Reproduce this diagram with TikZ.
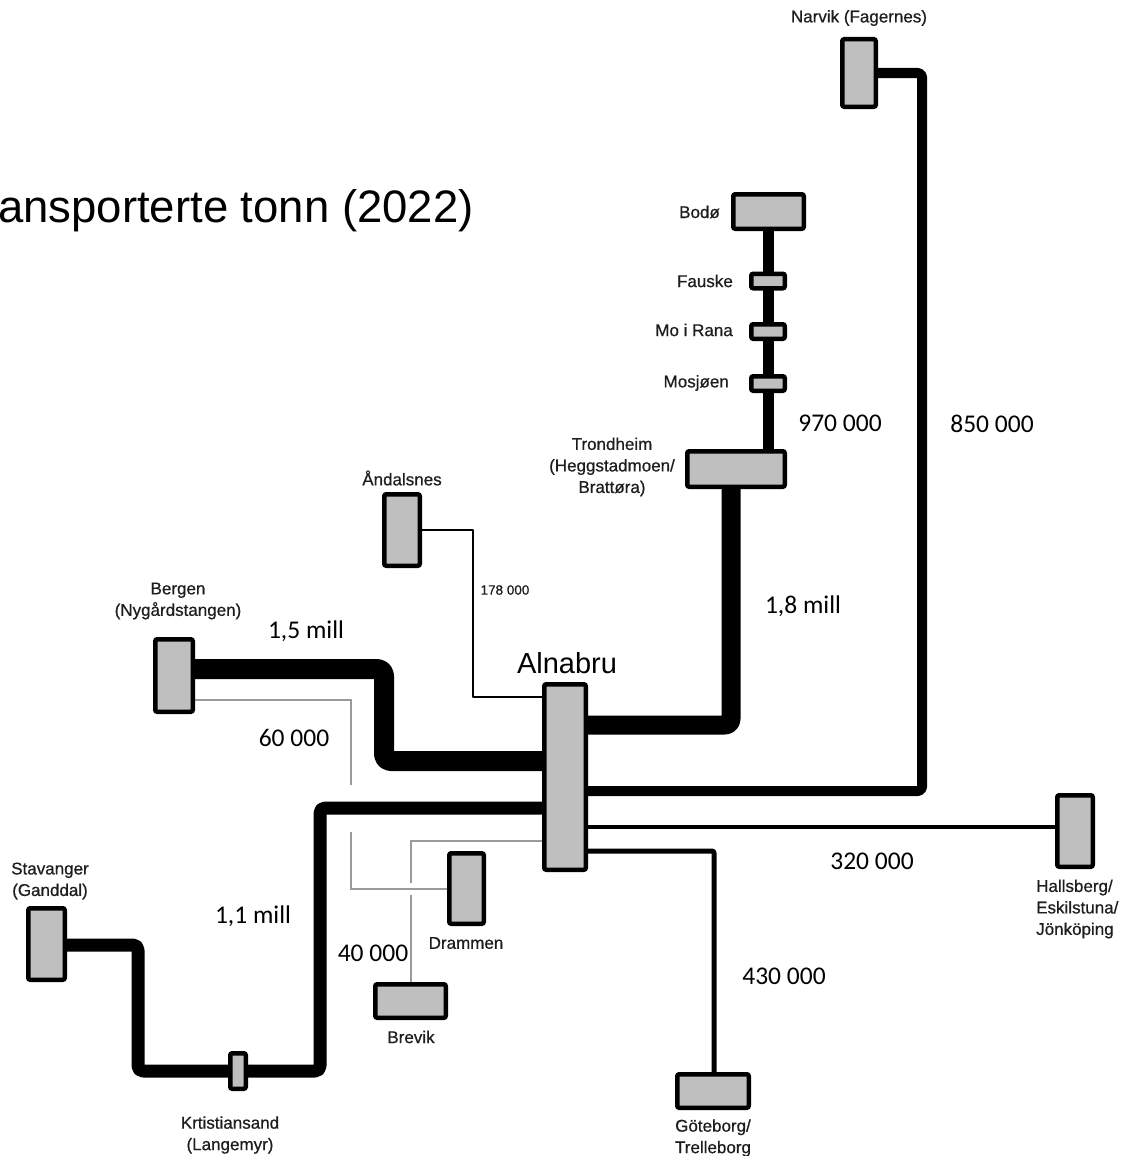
\documentclass[tikz,border=0pt]{standalone}
\usepackage{fontspec}
\setmainfont{Liberation Sans}
\newfontfamily\calib{Carlito}
\newfontfamily\lblfont{Liberation Sans}[FakeBold=0.7]
\definecolor{boxgray}{HTML}{BFBFBF}
\definecolor{labelcol}{HTML}{1E1E1E}
\definecolor{thingray}{HTML}{9A9A9A}
\pgfdeclarelayer{bg}
\pgfsetlayers{bg,main}
\tikzset{
  stn/.style={draw=black, fill=boxgray, line width=4.5pt, rounded corners=2pt, inner sep=0pt},
  lbl/.style={font=\lblfont\fontsize{17}{21.5}\selectfont, text=labelcol, inner sep=0pt, align=center},
  val/.style={font=\calib\fontsize{25.5}{30}\selectfont, inner sep=0pt},
  conn/.style={draw=black, line join=round, rounded corners=4pt},
  graylink/.style={draw=thingray, line width=1.5pt},
}
\begin{document}
\begin{tikzpicture}[x=1pt,y=-1pt]
\useasboundingbox (0,0) rectangle (1127,1156);
% title
\node[anchor=base west, inner sep=0pt, font=\fontsize{45.5}{50}\selectfont] (title) at (-2,222) {ansporterte tonn (2022)};
% stations
\node[stn, minimum width=33.5pt, minimum height=67.5pt] (narvik) at (859,73) {};
\node[stn, minimum width=70.5pt, minimum height=34.5pt] (bodo) at (768.5,211.5) {};
\node[stn, minimum width=33.5pt, minimum height=14.5pt] (fauske) at (768,281) {};
\node[stn, minimum width=33.5pt, minimum height=14.5pt] (morana) at (768,331.5) {};
\node[stn, minimum width=33.5pt, minimum height=14.5pt] (mosjoen) at (768,383.5) {};
\node[stn, minimum width=97.5pt, minimum height=35.5pt] (trondheim) at (736,469) {};
\node[stn, minimum width=35.5pt, minimum height=71.5pt] (andalsnes) at (402,530) {};
\node[stn, minimum width=41.5pt, minimum height=185.5pt] (alnabru) at (565,777) {};
\node[stn, minimum width=37.5pt, minimum height=72.5pt] (bergen) at (174,675.5) {};
\node[stn, minimum width=36.5pt, minimum height=71.5pt] (stavanger) at (46.5,944) {};
\node[stn, minimum width=15.5pt, minimum height=35.5pt] (kristiansand) at (238,1071) {};
\node[stn, minimum width=34.5pt, minimum height=70.5pt] (drammen) at (466.5,888.5) {};
\node[stn, minimum width=70.5pt, minimum height=33.5pt] (brevik) at (410.5,1001) {};
\node[stn, minimum width=71.5pt, minimum height=33.5pt] (goteborg) at (713,1091) {};
\node[stn, minimum width=35.5pt, minimum height=71.5pt] (hallsberg) at (1075,831) {};
% connectors
\begin{pgfonlayer}{bg}
\draw[conn, line width=10pt] (narvik.east) -- (922,73) -- (922,791) -- (alnabru.east |- 0,791);
\draw[conn, line width=11pt] (bodo.south -| 768,0) -- (trondheim.north -| 768,0);
\draw[conn, line width=19pt, rounded corners=6pt] (trondheim.south -| 731,0) -- (731,725) -- (alnabru.east |- 0,725);
\draw[conn, line width=1.6pt, rounded corners=0pt] (andalsnes.east) -- (473,530) -- (473,697) -- (alnabru.west |- 0,697);
\draw[conn, line width=20pt, rounded corners=7pt] (bergen.east |- 0,669) -- (384,669) -- (384,761) -- (alnabru.west |- 0,761);
\draw[graylink] (bergen.east |- 0,700) -- (351,700) -- (351,785);
\draw[graylink] (351,832) -- (351,889) -- (drammen.west |- 0,889);
\draw[conn, line width=13pt, rounded corners=5pt] (alnabru.west |- 0,808) -- (320,808) -- (320,1071) -- (kristiansand.east);
\draw[conn, line width=13pt, rounded corners=5pt] (kristiansand.west) -- (138,1071) -- (138,945) -- (stavanger.east |- 0,945);
\draw[graylink] (alnabru.west |- 0,841) -- (411,841) -- (411,883);
\draw[graylink] (411,895) -- (brevik.north -| 411,0);
\draw[conn, line width=3.5pt, rounded corners=0pt] (alnabru.east |- 0,827) -- (hallsberg.west |- 0,827);
\draw[conn, line width=5pt, rounded corners=2pt] (alnabru.east |- 0,851) -- (714,851) -- (goteborg.north -| 714,0);
\end{pgfonlayer}
% station labels
\node[lbl] (lnarvik) at (859,18) {Narvik (Fagernes)};
\node[lbl, anchor=east] (lbodo) at (720,212) {Bodø};
\node[lbl, anchor=east] (lfauske) at (733,281) {Fauske};
\node[lbl, anchor=east] (lmorana) at (733,330) {Mo i Rana};
\node[lbl, anchor=east] (lmosjoen) at (729,383) {Mosjøen};
\node[lbl] (ltrondheim) at (612,467) {Trondheim\\(Heggstadmoen/\\Brattøra)};
\node[lbl] (landalsnes) at (402,478) {Åndalsnes};
\node[lbl] (lbergen) at (178,601) {Bergen\\(Nygårdstangen)};
\node[lbl] (lstavanger) at (50,881) {Stavanger\\(Ganddal)};
\node[lbl] (lkristiansand) at (230,1135) {Krtistiansand\\(Langemyr)};
\node[lbl] (ldrammen) at (466,943) {Drammen};
\node[lbl] (lbrevik) at (411,1037) {Brevik};
\node[lbl] (lgoteborg) at (713,1138) {Göteborg/\\Trelleborg};
\node[lbl, align=left, anchor=west] (lhallsberg) at (1036,909) {Hallsberg/\\Eskilstuna/\\Jönköping};
\node[inner sep=0pt, font=\fontsize{29}{32}\selectfont] (lalnabru) at (567,663) {Alnabru};
% values
\node[val] (v970) at (840,423) {970 000};
\node[val] (v850) at (992,424) {850 000};
\node[inner sep=0pt, font=\lblfont\fontsize{13.5}{15}\selectfont, text=labelcol] (v178) at (505,590) {178 000};
\node[val] (v18) at (803,606) {1,8 mill};
\node[val] (v15) at (306,631) {1,5 mill};
\node[val] (v60) at (294,738) {60 000};
\node[val] (v11) at (253,916) {1,1 mill};
\node[val] (v40) at (373,953) {40 000};
\node[val] (v320) at (872,861) {320 000};
\node[val] (v430) at (784,976) {430 000};
\end{tikzpicture}
\end{document}
